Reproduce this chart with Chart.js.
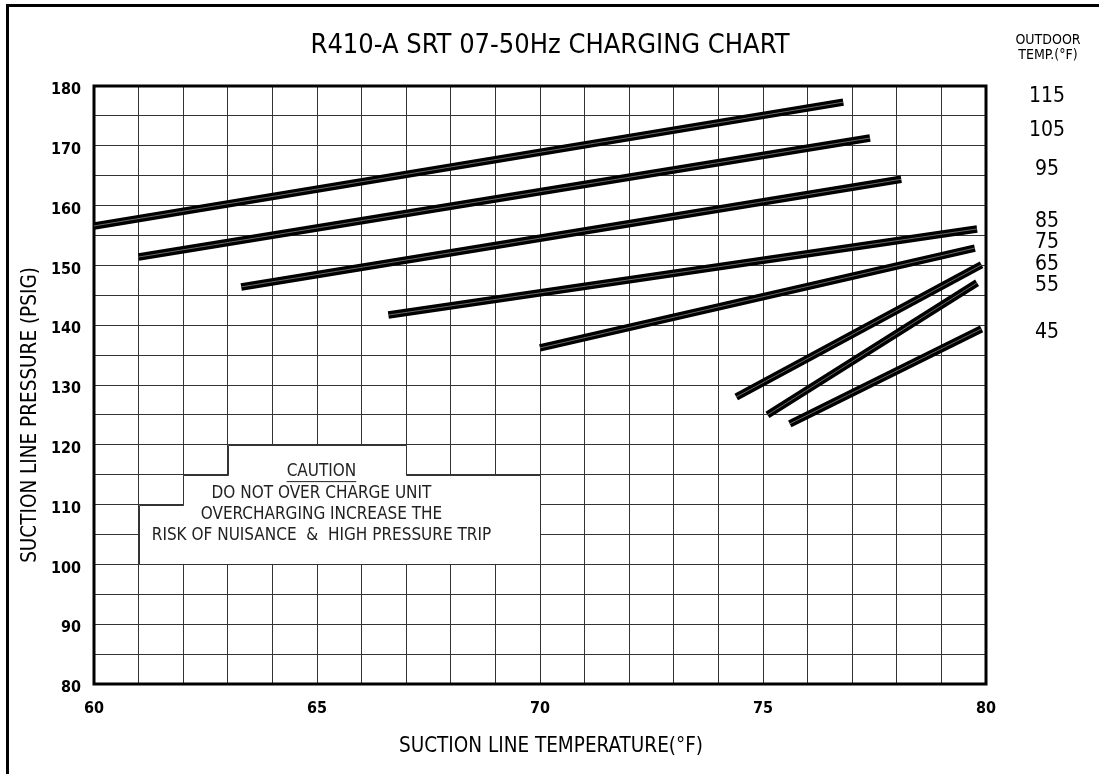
<!DOCTYPE html>
<html>
<head>
<meta charset="utf-8">
<script src="https://cdn.jsdelivr.net/npm/chart.js@4.4.1/dist/chart.umd.min.js"></script>
<style>
    html, body { margin: 0; padding: 0; background: #fff; }
</style>
</head>
<body>
<canvas id="graficoCarga" width="1099" height="774"></canvas>
<script>
//Datos
var outdoorTemps = [115, 105, 95, 85, 75, 65, 55, 45];
var startTemp  = [60.0, 61.0, 63.3, 66.6, 70.0, 74.4, 75.1, 75.6];
var startPress = [156.6, 151.4, 146.4, 141.7, 136.2, 128.0, 125.0, 123.5];
var endTemp    = [76.8, 77.4, 78.1, 79.8, 79.75, 79.9, 79.8, 79.9];
var endPress   = [177.3, 171.3, 164.4, 156.1, 152.9, 150.1, 147.1, 139.4];
var labelPress = [178.2, 172.6, 166.0, 157.4, 153.9, 150.2, 146.6, 138.7];

var tempTicks = [60, 65, 70, 75, 80];
var pressTicks = [80, 90, 100, 110, 120, 130, 140, 150, 160, 170, 180];

var cautionLines = ["CAUTION", "DO NOT OVER CHARGE UNIT", "OVERCHARGING INCREASE THE", "RISK OF NUISANCE  &  HIGH PRESSURE TRIP"];
var cautionPress = [115.6, 111.9, 108.4, 104.75];

var fuente = "'Liberation Sans Narrow', 'DejaVu Sans Condensed', sans-serif";

var datasets = outdoorTemps.map(function(t, i) {
    return {
        label: t + "",
        data: [{x: startTemp[i], y: startPress[i]}, {x: endTemp[i], y: endPress[i]}],
        borderColor: "#000",
        borderWidth: 7.5,
        borderCapStyle: "butt",
        pointRadius: 0,
        fill: false
    };
});

//Marco, recuadro de precaucion y textos
var plugExtras = {
    id: "extras",
    beforeDatasetsDraw: function(chart) {
        var ctx = chart.ctx;
        var xs = chart.scales.x, ys = chart.scales.y;
        var a = chart.chartArea;

        //recuadro blanco
        var poly = [[63,120],[67,120],[67,115],[70,115],[70,100],[61,100],[61,110],[62,110],[62,115],[63,115]];
        ctx.save();
        ctx.beginPath();
        poly.forEach(function(p, k) {
            var px = Math.round(xs.getPixelForValue(p[0])) + 0.5;
            var py = Math.round(ys.getPixelForValue(p[1])) + 0.5;
            if (k == 0) ctx.moveTo(px, py); else ctx.lineTo(px, py);
        });
        ctx.closePath();
        ctx.fillStyle = "#fff";
        ctx.fill();
        ctx.strokeStyle = "#333";
        ctx.lineWidth = 1;
        ctx.stroke();

        //textos
        var cx = xs.getPixelForValue(65.1);
        ctx.fillStyle = "#222";
        ctx.textAlign = "center";
        ctx.textBaseline = "middle";
        ctx.font = "17px " + fuente;
        cautionLines.forEach(function(txt, k) {
            var py = ys.getPixelForValue(cautionPress[k]);
            ctx.fillText(txt, cx, py);
            if (k == 0) {
                var w = ctx.measureText(txt).width;
                ctx.fillRect(cx - w / 2, py + 10, w, 1);
            }
        });

        //borde del area
        ctx.strokeStyle = "#000";
        ctx.lineWidth = 3;
        ctx.strokeRect(a.left, a.top, a.right - a.left, a.bottom - a.top);
        ctx.restore();
    },
    afterDatasetsDraw: function(chart) {
        var ctx = chart.ctx;
        ctx.save();
        //linea fina dentro de cada trazo
        chart.data.datasets.forEach(function(ds, i) {
            var pts = chart.getDatasetMeta(i).data;
            ctx.beginPath();
            ctx.moveTo(pts[0].x, pts[0].y);
            ctx.lineTo(pts[1].x, pts[1].y);
            ctx.strokeStyle = "rgba(150,150,150,0.7)";
            ctx.lineWidth = 1;
            ctx.stroke();
        });

        //etiquetas de temperatura exterior
        var ys = chart.scales.y;
        ctx.fillStyle = "#000";
        ctx.textAlign = "center";
        ctx.textBaseline = "middle";
        ctx.font = "21px " + fuente;
        outdoorTemps.forEach(function(t, i) {
            ctx.fillText(t + "", 1047, ys.getPixelForValue(labelPress[i]));
        });
        ctx.font = "14px " + fuente;
        ctx.fillText("OUTDOOR", 1048, 40);
        ctx.fillText("TEMP.(°F)", 1048, 55);

        //titulo
        ctx.font = "27px " + fuente;
        ctx.fillText("R410-A SRT 07-50Hz CHARGING CHART", 550, 46);

        //titulos de ejes
        ctx.font = "20.5px " + fuente;
        ctx.fillText("SUCTION LINE TEMPERATURE(°F)", 551, 747);
        ctx.save();
        ctx.translate(31, 415);
        ctx.rotate(-Math.PI / 2);
        ctx.fillText("SUCTION LINE PRESSURE (PSIG)", 0, 0);
        ctx.restore();

        //marco exterior
        ctx.fillStyle = "#000";
        ctx.fillRect(6, 4, 1093, 3);
        ctx.fillRect(6, 4, 3, 770);
        ctx.restore();
    }
};

var getGrafico = document.getElementById("graficoCarga");
var graficoCarga = new Chart(getGrafico, {
    type: "line",
    plugins: [plugExtras],
    data: {
        datasets: datasets
    },
    options: {
        responsive: false,
        animation: false,
        devicePixelRatio: 1,
        layout: {
            padding: {left: 0, top: 86, right: 113, bottom: 0}
        },
        scales: {
            x: {
                type: "linear",
                min: tempTicks[0],
                max: tempTicks[tempTicks.length - 1],
                afterFit: function(scale) { scale.height = 90; },
                ticks: {
                    stepSize: 1,
                    padding: 15,
                    color: "#000",
                    font: {family: fuente, size: 16, weight: "bold"},
                    callback: function(v) { return tempTicks.indexOf(v) >= 0 ? v : ""; }
                },
                grid: {color: "#333", lineWidth: 1, drawTicks: false},
                border: {display: false}
            },
            y: {
                min: pressTicks[0],
                max: pressTicks[pressTicks.length - 1],
                afterFit: function(scale) { scale.width = 94; },
                ticks: {
                    stepSize: 5,
                    padding: 13,
                    labelOffset: 4,
                    color: "#000",
                    font: {family: fuente, size: 16, weight: "bold"},
                    callback: function(v) { return pressTicks.indexOf(v) >= 0 ? v : ""; }
                },
                grid: {color: "#333", lineWidth: 1, drawTicks: false},
                border: {display: false}
            }
        },
        plugins: {
            legend: {display: false},
            tooltip: {enabled: false}
        }
    }
});
</script>
</body>
</html>
